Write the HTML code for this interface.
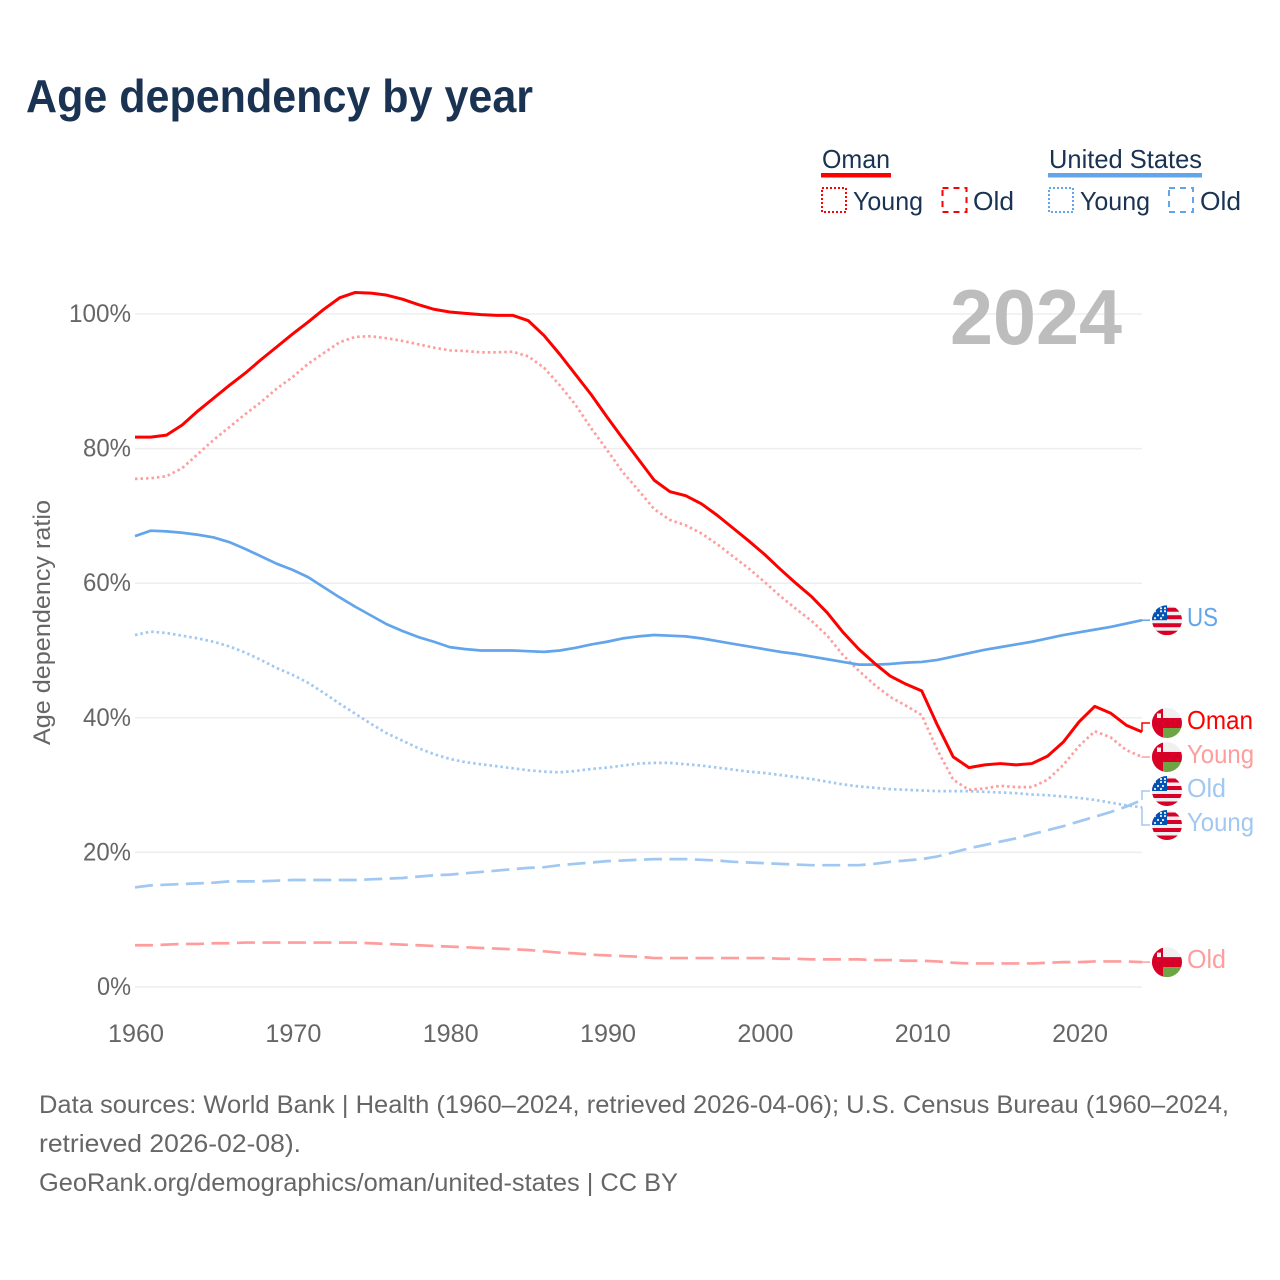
<!DOCTYPE html>
<html lang="en">
<head>
<meta charset="utf-8">
<title>Age dependency by year</title>
<style>
html,body{margin:0;padding:0;background:#fff;}
svg{display:block;}
text{font-family:"Liberation Sans",sans-serif;}
</style>
</head>
<body>
<svg id="chart" width="1280" height="1280" viewBox="0 0 1280 1280" xmlns="http://www.w3.org/2000/svg">
  <defs>
    <clipPath id="flag-clip"><circle cx="15" cy="15" r="15"/></clipPath>
  </defs>
  <text x="26" y="112" font-size="46" font-weight="700" fill="#1a3353" textLength="507" lengthAdjust="spacingAndGlyphs">Age dependency by year</text>

  <g>
    <g>
      <text x="822" y="168" font-size="26" fill="#1a3353" textLength="68" lengthAdjust="spacingAndGlyphs">Oman</text>
      <rect x="821" y="173" width="70" height="4.5" fill="#ff0000"/>
    </g>
    <g>
      <rect x="822" y="188" width="24" height="24" fill="none" stroke="#ff0000" stroke-width="2" stroke-dasharray="2 2"/>
      <text x="853" y="210" font-size="26" fill="#1a3353" textLength="70" lengthAdjust="spacingAndGlyphs">Young</text>
    </g>
    <g>
      <rect x="942.500" y="188" width="24" height="24" fill="none" stroke="#ff0000" stroke-width="2" stroke-dasharray="6 5"/>
      <text x="973" y="210" font-size="26" fill="#1a3353" textLength="41" lengthAdjust="spacingAndGlyphs">Old</text>
    </g>
    <g>
      <text x="1049" y="168" font-size="26" fill="#1a3353" textLength="153" lengthAdjust="spacingAndGlyphs">United States</text>
      <rect x="1048" y="173" width="154" height="4.5" fill="#62a5eb"/>
    </g>
    <g>
      <rect x="1049" y="188" width="24" height="24" fill="none" stroke="#62a5eb" stroke-width="2" stroke-dasharray="2 2"/>
      <text x="1080" y="210" font-size="26" fill="#1a3353" textLength="70" lengthAdjust="spacingAndGlyphs">Young</text>
    </g>
    <g>
      <rect x="1169" y="188" width="24" height="24" fill="none" stroke="#62a5eb" stroke-width="2" stroke-dasharray="6 5"/>
      <text x="1200" y="210" font-size="26" fill="#1a3353" textLength="41" lengthAdjust="spacingAndGlyphs">Old</text>
    </g>
  </g>

  <text transform="translate(50 745) rotate(-90)" font-size="24" fill="#666666" textLength="245" lengthAdjust="spacingAndGlyphs">Age dependency ratio</text>

  <g id="grid"></g>
  <g id="y-ticks"></g>
  <g id="x-ticks"></g>
  <text x="950" y="344" font-size="78" font-weight="700" fill="#bdbdbd" textLength="172" lengthAdjust="spacingAndGlyphs">2024</text>
  <g id="series"></g>
  <g id="end-labels"></g>

  <g>
    <text x="39" y="1113" font-size="25" fill="#666666" textLength="1190" lengthAdjust="spacingAndGlyphs">Data sources: World Bank | Health (1960–2024, retrieved 2026-04-06); U.S. Census Bureau (1960–2024,</text>
    <text x="39" y="1152" font-size="25" fill="#666666" textLength="262" lengthAdjust="spacingAndGlyphs">retrieved 2026-02-08).</text>
    <text x="39" y="1191" font-size="25" fill="#666666" textLength="639" lengthAdjust="spacingAndGlyphs">GeoRank.org/demographics/oman/united-states | CC BY</text>
  </g>
</svg>
<script>
const years = Array.from({length: 65}, (_, i) => 1960 + i);
const yTickValues = [0, 20, 40, 60, 80, 100];
const xTickValues = [1960, 1970, 1980, 1990, 2000, 2010, 2020];

const omanTotal = [
  81.7,81.7,82.0,83.5,85.6,87.5,89.4,91.2,93.2,95.1,
  97.0,98.8,100.7,102.4,103.2,103.1,102.8,102.2,101.4,100.7,
  100.3,100.1,99.9,99.8,99.8,99.0,96.8,94.0,91.0,88.0,
  84.7,81.5,78.4,75.3,73.6,73.0,71.8,70.1,68.2,66.3,
  64.3,62.1,60.0,58.0,55.6,52.7,50.2,48.1,46.2,45.0,
  44.0,38.9,34.2,32.6,33.0,33.2,33.0,33.2,34.3,36.4,
  39.4,41.7,40.7,38.9,37.9];
const omanYoung = [
  75.5,75.6,75.9,77.1,79.2,81.3,83.2,85.1,86.9,88.9,
  90.6,92.6,94.2,95.8,96.6,96.7,96.4,96.0,95.5,95.0,
  94.6,94.5,94.3,94.3,94.4,93.7,92.0,89.4,86.5,83.0,
  79.8,76.5,73.8,71.0,69.4,68.6,67.4,65.8,64.0,62.2,
  60.2,58.1,56.2,54.4,52.2,49.3,47.0,44.9,43.1,41.8,
  40.4,35.2,30.8,29.3,29.5,29.9,29.7,29.7,30.8,33.0,
  35.8,38.0,37.1,35.2,34.2];
const omanOld = [
  6.2,6.2,6.3,6.4,6.4,6.5,6.5,6.6,6.6,6.6,
  6.6,6.6,6.6,6.6,6.6,6.5,6.4,6.3,6.2,6.1,
  6.0,5.9,5.8,5.7,5.6,5.5,5.3,5.1,5.0,4.8,
  4.7,4.6,4.5,4.3,4.3,4.3,4.3,4.3,4.3,4.3,
  4.3,4.2,4.2,4.1,4.1,4.1,4.1,4.0,4.0,3.9,
  3.9,3.8,3.6,3.5,3.5,3.5,3.5,3.5,3.6,3.7,
  3.7,3.8,3.8,3.8,3.7];
const usTotal = [
  67.0,67.8,67.7,67.5,67.2,66.8,66.1,65.1,64.0,62.9,
  62.0,60.9,59.4,57.9,56.5,55.2,53.9,52.9,52.0,51.3,
  50.5,50.2,50.0,50.0,50.0,49.9,49.8,50.0,50.4,50.9,
  51.3,51.8,52.1,52.3,52.2,52.1,51.8,51.4,51.0,50.6,
  50.2,49.8,49.5,49.1,48.7,48.3,47.9,47.9,48.0,48.2,
  48.3,48.6,49.1,49.6,50.1,50.5,50.9,51.3,51.8,52.3,
  52.7,53.1,53.5,54.0,54.5];
const usYoung = [
  52.3,52.8,52.6,52.2,51.8,51.3,50.6,49.7,48.6,47.4,
  46.4,45.2,43.7,42.1,40.6,39.1,37.7,36.6,35.5,34.6,
  33.9,33.4,33.1,32.8,32.5,32.2,32.0,31.9,32.1,32.4,
  32.6,32.9,33.2,33.3,33.3,33.1,32.9,32.6,32.3,32.0,
  31.8,31.5,31.2,30.9,30.5,30.1,29.8,29.6,29.4,29.3,
  29.2,29.1,29.1,29.1,29.0,28.9,28.8,28.6,28.5,28.3,
  28.1,27.8,27.4,27.0,26.7];
const usOld = [
  14.8,15.1,15.2,15.3,15.4,15.5,15.7,15.7,15.7,15.8,
  15.9,15.9,15.9,15.9,15.9,16.0,16.1,16.2,16.4,16.6,
  16.7,16.9,17.1,17.3,17.5,17.7,17.8,18.1,18.3,18.5,
  18.7,18.8,18.9,19.0,19.0,19.0,18.9,18.8,18.6,18.5,
  18.4,18.3,18.2,18.1,18.1,18.1,18.1,18.3,18.6,18.8,
  19.0,19.4,20.0,20.6,21.1,21.6,22.1,22.7,23.3,23.9,
  24.6,25.3,26.0,26.8,27.8];

const NS = 'http://www.w3.org/2000/svg';
const plot = {left: 135, right: 1142, bottom: 987, top: 314};
const xScale = year => plot.left + (year - 1960) * (plot.right - plot.left) / 64;
const yScale = value => plot.bottom - value * (plot.bottom - plot.top) / 100;

function node(tag, parent, attrs) {
  const el = document.createElementNS(NS, tag);
  for (const k in attrs) el.setAttribute(k, attrs[k]);
  parent.appendChild(el);
  return el;
}

const gridG = document.getElementById('grid');
const yTicksG = document.getElementById('y-ticks');
const xTicksG = document.getElementById('x-ticks');
yTickValues.forEach(v => {
  const line = node('line', gridG, {x1: plot.left, x2: plot.right, y1: yScale(v), y2: yScale(v), stroke: '#eeeeee', 'stroke-width': 1.5});
  
  
  const label = node('text', yTicksG, {x: 131, y: yScale(v) + 8, 'text-anchor': 'end', 'font-size': 25, fill: '#666666', textLength: String(v).length * 14 + 20, lengthAdjust: 'spacingAndGlyphs'});
  label.textContent = v + '%';
  
  
});
xTickValues.forEach(v => {
  const label = node('text', xTicksG, {x: xScale(v) + 1, y: 1042, 'text-anchor': 'middle', 'font-size': 25, fill: '#666666', textLength: 56, lengthAdjust: 'spacingAndGlyphs'});
  label.textContent = v;
  
  
});

const seriesList = [
  {key: 'us-old', values: usOld, color: '#a0c8f2', width: 2.7, dash: '18 7.5', label: 'Old', labelWidth: 39, flag: 'us'},
  {key: 'us-young', values: usYoung, color: '#a0c8f2', width: 2.7, dash: '2.5 3', label: 'Young', labelWidth: 67, flag: 'us'},
  {key: 'oman-old', values: omanOld, color: '#ff9d9d', width: 2.7, dash: '18 7.5', label: 'Old', labelWidth: 39, flag: 'oman'},
  {key: 'oman-young', values: omanYoung, color: '#ff9d9d', width: 2.7, dash: '2.5 3', label: 'Young', labelWidth: 67, flag: 'oman'},
  {key: 'us-total', values: usTotal, color: '#62a5eb', width: 2.7, dash: '', label: 'US', labelWidth: 31, flag: 'us'},
  {key: 'oman-total', values: omanTotal, color: '#ff0000', width: 3, dash: '', label: 'Oman', labelWidth: 66, flag: 'oman'}
];

const seriesG = document.getElementById('series');
seriesList.forEach(s => {
  const d = s.values.map((v, i) => (i ? 'L' : 'M') + xScale(years[i]).toFixed(2) + ' ' + yScale(v).toFixed(2)).join(' ');
  const attrs = {d: d, fill: 'none', stroke: s.color, 'stroke-width': s.width, 'stroke-linejoin': 'round'};
  if (s.dash) attrs['stroke-dasharray'] = s.dash;
  const path = node('path', seriesG, attrs);
  
  
});

/* End labels: spread overlapping labels around their cluster's centre. */
const GAP = 34;
let clusters = seriesList
  .map(s => ({items: [s], sum: yScale(s.values[s.values.length - 1])}))
  .sort((a, b) => a.sum - b.sum);
let merged = true;
while (merged) {
  merged = false;
  for (let i = 0; i < clusters.length - 1; i++) {
    const a = clusters[i], b = clusters[i + 1];
    const ca = a.sum / a.items.length, cb = b.sum / b.items.length;
    const aBottom = ca + (a.items.length - 1) * GAP / 2;
    const bTop = cb - (b.items.length - 1) * GAP / 2;
    if (bTop - aBottom < GAP) {
      clusters.splice(i, 2, {items: a.items.concat(b.items), sum: a.sum + b.sum});
      merged = true;
      break;
    }
  }
}

function drawFlag(parent, kind, cy) {
  const g = node('g', parent, {transform: 'translate(1152 ' + (cy - 15) + ')', 'clip-path': 'url(#flag-clip)'});
  
  
  node('rect', g, {x: 0, y: 0, width: 30, height: 30, fill: '#f0f0f0'});
  if (kind === 'oman') {
    node('rect', g, {x: 0, y: 0, width: 11, height: 30, fill: '#d80027'});
    node('rect', g, {x: 0, y: 10, width: 30, height: 10, fill: '#d80027'});
    node('rect', g, {x: 11, y: 20, width: 19, height: 10, fill: '#6da544'});
    node('rect', g, {x: 5, y: 5.500, width: 4, height: 4.500, fill: '#f0f0f0'});
  } else {
    [2.5, 10, 18, 25.5].forEach(y => node('rect', g, {x: 0, y: y, width: 30, height: y > 25 ? 4.5 : 4, fill: '#d80027'}));
    node('rect', g, {x: 0, y: 0, width: 15, height: 15, fill: '#0052b4'});
    [[3, 9], [6, 3], [6, 9], [6, 13], [10, 6], [10, 11], [13, 3], [13, 9], [3, 13]].forEach(p =>
      node('circle', g, {cx: p[1], cy: p[0], r: 1.1, fill: '#f0f0f0'}));
  }
}

const labelsG = document.getElementById('end-labels');
clusters.forEach(c => {
  const centre = c.sum / c.items.length;
  c.items.forEach((s, i) => {
    const endY = yScale(s.values[s.values.length - 1]);
    const labelY = centre + (i - (c.items.length - 1) / 2) * GAP;
    const conn = node('path', labelsG, {d: 'M' + plot.right + ' ' + endY + ' V' + labelY + ' H1150', fill: 'none', stroke: s.color, 'stroke-width': 1.5});
    
    
    drawFlag(labelsG, s.flag, labelY);
    const text = node('text', labelsG, {x: 1187, y: labelY + 6, 'font-size': 26, fill: s.color, textLength: s.labelWidth, lengthAdjust: 'spacingAndGlyphs'});
    text.textContent = s.label;
    
    
  });
});
</script>
</body>
</html>
